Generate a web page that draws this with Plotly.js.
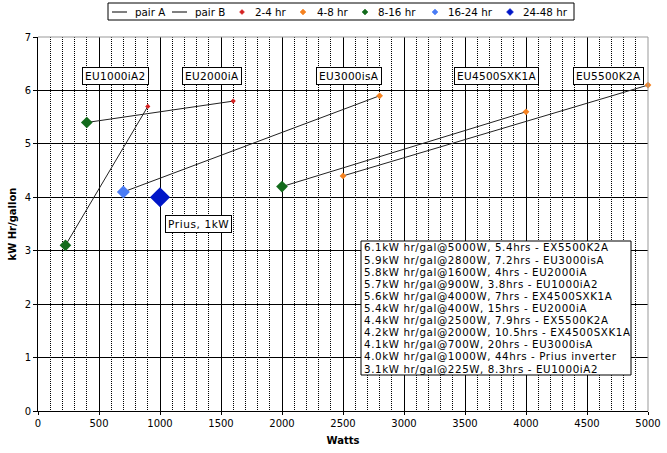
<!DOCTYPE html>
<html><head><meta charset="utf-8">
<script src="https://cdn.plot.ly/plotly-3.0.1.min.js"></script>
<style>html,body{margin:0;padding:0;background:#fff}#chart{width:667px;height:453px}</style>
</head><body><div id="chart"></div>
<script>
// Generator pairs (start, end)
const pairAx = [[225,900],[400,1600],[700,2800]];
const pairAy = [[3.1,5.7],[5.4,5.8],[4.1,5.9]];
const pairBx = [[2000,4000],[2500,5000]];
const pairBy = [[4.2,5.6],[4.4,6.1]];

// Run-time groups
const hr2to4x = [900,1600];             const hr2to4y = [5.7,5.8];
const hr4to8x = [5000,2800,4000,2500];  const hr4to8y = [6.1,5.9,5.6,4.4];
const hr8to16x = [400,2000,225];        const hr8to16y = [5.4,4.2,3.1];
const hr16to24x = [700];                const hr16to24y = [4.1];
const hr24to48x = [1000];               const hr24to48y = [4.0];

const seriesNames = ["pair A","pair B","2-4 hr","4-8 hr","8-16 hr","16-24 hr","24-48 hr"];
const seriesColors = ["#222222","#222222","#d42020","#f58220","#136b1c","#4a7cf5","#0016c8"];

const modelLabels = ["EU1000iA2","EU2000iA","EU3000isA","EU4500SXK1A","EU5500K2A"];
const modelLabelX = [634,1426,2549,3762,4675];
const modelLabelY = [6.27,6.27,6.27,6.27,6.27];
const priusLabel = "Prius, 1kW";

const noteLines = [
 "6.1kW hr/gal@5000W, 5.4hrs - EX5500K2A",
 "5.9kW hr/gal@2800W, 7.2hrs - EU3000isA",
 "5.8kW hr/gal@1600W, 4hrs - EU2000iA",
 "5.7kW hr/gal@900W, 3.8hrs - EU1000iA2",
 "5.6kW hr/gal@4000W, 7hrs - EX4500SXK1A",
 "5.4kW hr/gal@400W, 15hrs - EU2000iA",
 "4.4kW hr/gal@2500W, 7.9hrs - EX5500K2A",
 "4.2kW hr/gal@2000W, 10.5hrs - EX4500SXK1A",
 "4.1kW hr/gal@700W, 20hrs - EU3000isA",
 "4.0kW hr/gal@1000W, 44hrs - Prius inverter",
 "3.1kW hr/gal@225W, 8.3hrs - EU1000iA2"
];

function joinSegs(arr){ const out=[]; arr.forEach((s,i)=>{ if(i) out.push(null); out.push(...s); }); return out; }
const spaced = (t, ls) => `<span style="letter-spacing:${ls}px">${t}</span>`;

const FONT = "DejaVu Sans, Verdana, sans-serif";
const mk = (size,color)=>({symbol:"diamond",size:size,color:color,line:{width:0}});
const traces = [
 {name:seriesNames[0], x:joinSegs(pairAx), y:joinSegs(pairAy), mode:"lines", line:{color:seriesColors[0],width:1}},
 {name:seriesNames[1], x:joinSegs(pairBx), y:joinSegs(pairBy), mode:"lines", line:{color:seriesColors[1],width:1}},
 {name:seriesNames[2], x:hr2to4x, y:hr2to4y, mode:"markers", marker:mk(4,seriesColors[2]), cliponaxis:false},
 {name:seriesNames[3], x:hr4to8x, y:hr4to8y, mode:"markers", marker:mk(5.2,seriesColors[3]), cliponaxis:false},
 {name:seriesNames[4], x:hr8to16x, y:hr8to16y, mode:"markers", marker:mk(9,seriesColors[4]), cliponaxis:false},
 {name:seriesNames[5], x:hr16to24x, y:hr16to24y, mode:"markers", marker:mk(10,seriesColors[5]), cliponaxis:false},
 {name:seriesNames[6], x:hr24to48x, y:hr24to48y, mode:"markers", marker:mk(15.5,seriesColors[6]), cliponaxis:false}
];

// plot-area geometry (pixels) for paper conversions
const PL = 38, PR = 648, PT = 37, PB = 411;
const px2x = p => (p-PL)/(PR-PL);
const py2y = p => (PB-p)/(PB-PT);

const annotations = modelLabels.map((t,i)=>({
 text:spaced(t,0.3), x:modelLabelX[i], y:modelLabelY[i], xref:"x", yref:"y", showarrow:false,
 bordercolor:"#000", borderwidth:1, borderpad:2, bgcolor:"#fff", font:{family:FONT,size:10.5,color:"#000"}
}));
annotations.push({text:spaced(priusLabel,0.6), x:hr24to48x[0]+318, y:hr24to48y[0]-0.5, xref:"x", yref:"y", showarrow:false,
 bordercolor:"#000", borderwidth:1, borderpad:2, bgcolor:"#fff", font:{family:FONT,size:10.5,color:"#000"}});

// note box
const BOX = {l:361, r:631, t:241, b:375, first:247, step:12.1};
noteLines.forEach((t,i)=>{
 annotations.push({text:spaced(t,0.6), x:px2x(BOX.l+2), y:py2y(BOX.first+0.5+i*BOX.step), xref:"paper", yref:"paper",
  xanchor:"left", yanchor:"middle", align:"left", showarrow:false, borderpad:0,
  font:{family:FONT,size:10.3,color:"#000"}});
});

const shapes = [
 {type:"rect", xref:"paper", yref:"paper", x0:px2x(BOX.l), x1:px2x(BOX.r), y0:py2y(BOX.b), y1:py2y(BOX.t),
  line:{color:"#000",width:1}, fillcolor:"#fff", layer:"above"},
 {type:"line", xref:"paper", yref:"paper", x0:0, x1:1, y0:1, y1:1, line:{color:"#999",width:1}},
 {type:"line", xref:"paper", yref:"paper", x0:1, x1:1, y0:0, y1:1, line:{color:"#999",width:1}}
];

// compact legend row matching the reference
const LEG = {l:108, r:574, t:3, b:20, cy:12};
const legSwatchX = [112,172,242,303,365,435,510];
const legTextX = [135,195,255,317,378,448,523];
const legMarkHalf = [0,0,2.5,3,3,3,3.5];
shapes.push({type:"rect", xref:"paper", yref:"paper", x0:px2x(LEG.l), x1:px2x(LEG.r), y0:py2y(LEG.b), y1:py2y(LEG.t),
  line:{color:"#000",width:1}, fillcolor:"#fff"});
seriesNames.forEach((n,i)=>{
 if(i<2){
  shapes.push({type:"line", xref:"paper", yref:"paper", x0:px2x(legSwatchX[i]), x1:px2x(legSwatchX[i]+15),
   y0:py2y(LEG.cy), y1:py2y(LEG.cy), line:{color:"#000",width:1}});
 } else {
  const cx=legSwatchX[i], cy=LEG.cy, h=legMarkHalf[i];
  shapes.push({type:"path", xref:"paper", yref:"paper",
   path:`M ${px2x(cx-h)},${py2y(cy)} L ${px2x(cx)},${py2y(cy-h)} L ${px2x(cx+h)},${py2y(cy)} L ${px2x(cx)},${py2y(cy+h)} Z`,
   fillcolor:seriesColors[i], line:{color:seriesColors[i],width:0.5}});
 }
 annotations.push({text:n, x:px2x(legTextX[i]-1), y:py2y(LEG.cy), xref:"paper", yref:"paper", xanchor:"left", yanchor:"middle",
  showarrow:false, borderpad:0, font:{family:FONT,size:10.3,color:"#000"}});
});

const layout = {
 width:667, height:453,
 margin:{l:PL, r:667-PR, t:PT, b:453-PB, autoexpand:false},
 paper_bgcolor:"#fff", plot_bgcolor:"#fff",
 font:{family:FONT, size:10, color:"#000"},
 showlegend:false,
 xaxis:{range:[0,5000], dtick:500, tick0:0, showgrid:true, gridcolor:"#000", gridwidth:1,
   minor:{dtick:100, showgrid:true, gridcolor:"#000", griddash:"1px,1px", gridwidth:1},
   showline:true, linecolor:"#000", linewidth:1, ticks:"outside", ticklen:3, tickcolor:"#000",
   zeroline:false, fixedrange:true, tickfont:{family:FONT,size:10},
   title:{text:"<b>Watts</b>", font:{family:FONT,size:10}, standoff:8}},
 yaxis:{range:[0,7], dtick:1, tick0:0, showgrid:true, gridcolor:"#000", gridwidth:1,
   showline:true, linecolor:"#000", linewidth:1, ticks:"outside", ticklen:4, tickcolor:"#000",
   zeroline:false, fixedrange:true, tickfont:{family:FONT,size:10},
   title:{text:"<b>kW Hr/gallon</b>", font:{family:FONT,size:10}, standoff:6}},
 annotations:annotations, shapes:shapes
};
Plotly.newPlot("chart", traces, layout, {displayModeBar:false, staticPlot:true});
</script></body></html>
